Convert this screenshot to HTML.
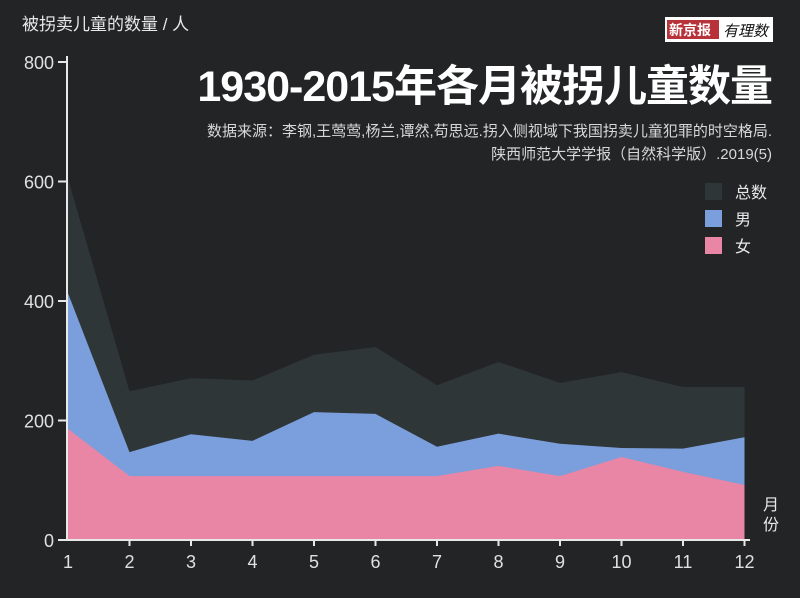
<!DOCTYPE html>
<html><head><meta charset="utf-8"><style>
body{margin:0;background:#222426;}
svg text{font-family:"Liberation Sans","Noto Sans CJK SC",sans-serif;}
</style></head><body>
<svg width="800" height="593" viewBox="0 0 800 593">
<rect width="800" height="593" fill="#222426"/>
<text x="22" y="30" fill="#e8e8e8" font-size="17">被拐卖儿童的数量 / 人</text>
<g>
<rect x="665" y="17" width="108" height="25" fill="#fff"/>
<rect x="667" y="20" width="52" height="19" fill="#b8323a"/>
<text x="669" y="35" fill="#fff" font-size="14" font-weight="bold" font-family="Noto Serif CJK SC,serif">新京报</text>
<text x="723" y="36" fill="#111" font-size="15" font-style="italic">有理数</text>
</g>
<text x="772" y="101" text-anchor="end" fill="#fff" font-size="43" font-weight="bold" letter-spacing="-1">1930-2015年各月被拐儿童数量</text>
<text x="772" y="136" text-anchor="end" fill="#d8d8d8" font-size="15">数据来源：李钢,王莺莺,杨兰,谭然,苟思远.拐入侧视域下我国拐卖儿童犯罪的时空格局.</text>
<text x="772" y="159" text-anchor="end" fill="#d8d8d8" font-size="15">陕西师范大学学报（自然科学版）.2019(5)</text>
<g id="plot"></g>
<g>
<rect x="705" y="183" width="17" height="17" fill="#2f3638"/>
<text x="735" y="198" fill="#e8e8e8" font-size="16">总数</text>
<rect x="705" y="210" width="17" height="17" fill="#7b9fdc"/>
<text x="735" y="225" fill="#e8e8e8" font-size="16">男</text>
<rect x="705" y="237" width="17" height="17" fill="#e985a5"/>
<text x="735" y="252" fill="#e8e8e8" font-size="16">女</text>
</g>
<text x="763" y="510" fill="#e8e8e8" font-size="16">月</text>
<text x="763" y="530" fill="#e8e8e8" font-size="16">份</text>
</svg>
<script>
const months=[1,2,3,4,5,6,7,8,9,10,11,12];
const total=[605,249,271,267,310,323,259,298,263,281,256,256];
const male=[413,147,177,166,214,211,156,178,161,154,153,172];
const female=[186,107,107,107,107,107,107,124,107,139,114,92];
const yTicks=[0,200,400,600,800];
const NS='http://www.w3.org/2000/svg';
const x=m=>68+(m-1)*61.5;
const y=v=>540-v*0.5975;
const plot=document.getElementById('plot');
function area(vals,color,name){
  const p=document.createElementNS(NS,'path');
  let d='M'+x(months[0])+','+y(0);
  vals.forEach((v,i)=>{d+=' L'+x(months[i])+','+y(v);});
  d+=' L'+x(months[months.length-1])+','+y(0)+' Z';
  p.setAttribute('d',d);p.setAttribute('fill',color);
  
  
  plot.appendChild(p);
}
area(total,'#2f3638','area-total');
area(male,'#7b9fdc','area-male');
area(female,'#e985a5','area-female');
function line(x1,y1,x2,y2,name){
  const l=document.createElementNS(NS,'line');
  l.setAttribute('x1',x1);l.setAttribute('y1',y1);l.setAttribute('x2',x2);l.setAttribute('y2',y2);
  l.setAttribute('stroke','#e8e8e8');l.setAttribute('stroke-width','2');
  
  
  plot.appendChild(l);
}
function text(tx,ty,s,anchor,name){
  const t=document.createElementNS(NS,'text');
  t.setAttribute('x',tx);t.setAttribute('y',ty);t.setAttribute('fill','#e0e0e0');
  t.setAttribute('font-size','18');t.setAttribute('text-anchor',anchor);t.textContent=s;
  
  
  plot.appendChild(t);
}
line(67,y(810),67,541,'y-axis');
line(58,540,750,540,'x-axis');
yTicks.forEach(v=>{line(58,y(v),67,y(v),'y-tick');text(54,y(v)+7,String(v),'end','y-tick-label');});
months.forEach(m=>{if(m>1)line(x(m),540,x(m),546,'x-tick');text(x(m),568,String(m),'middle','x-tick-label');});
</script>
</body></html>
